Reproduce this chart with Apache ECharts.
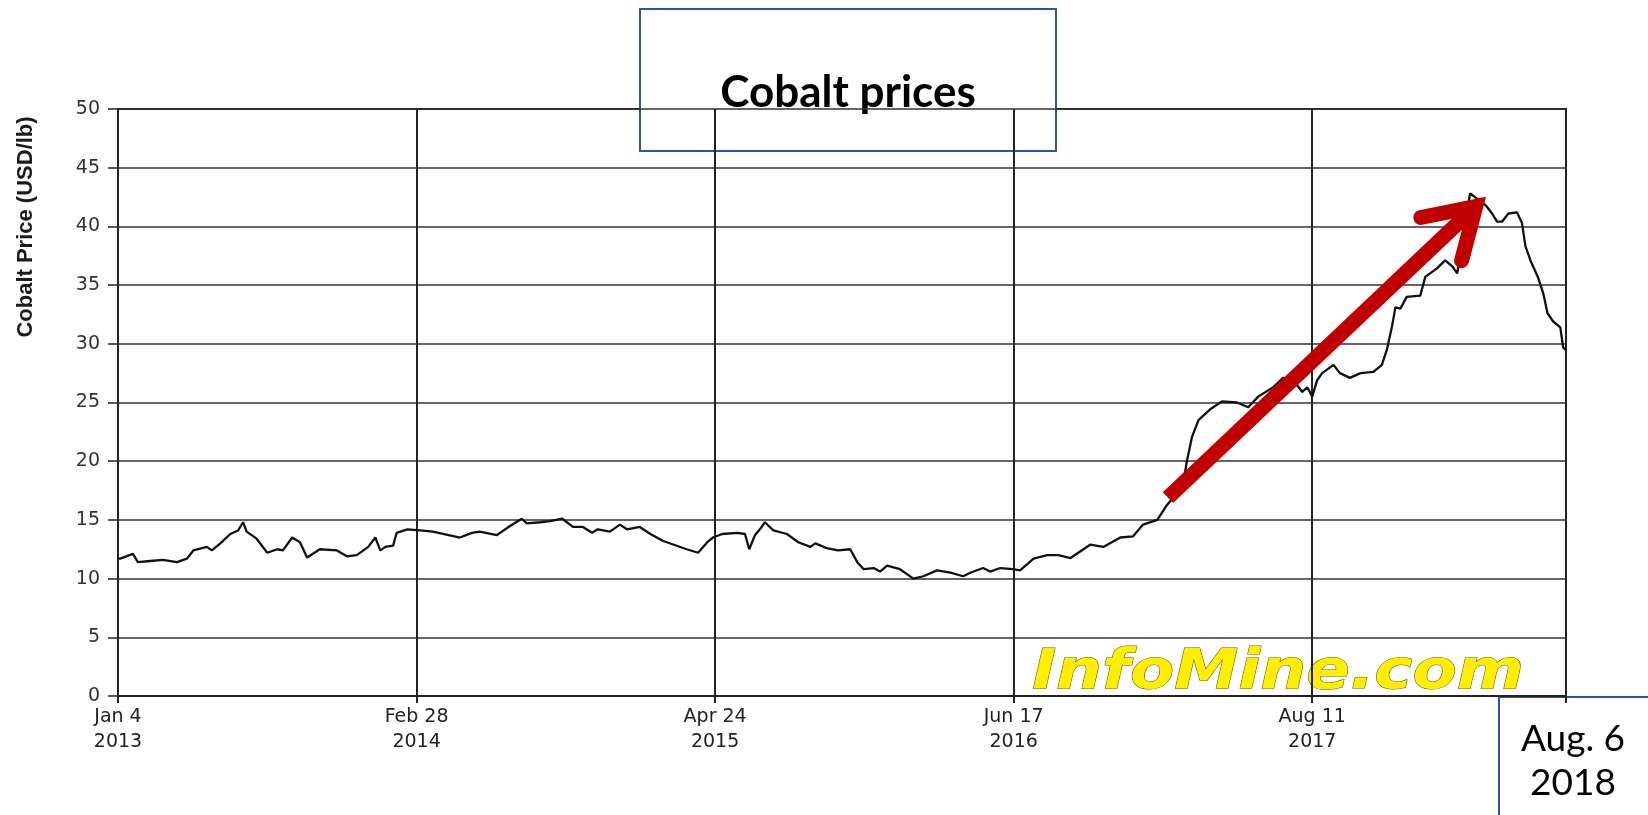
<!DOCTYPE html>
<html>
<head>
<meta charset="utf-8">
<title>Cobalt prices</title>
<script src="https://cdn.jsdelivr.net/npm/echarts@6/dist/echarts.min.js"></script>
<style>
  html, body { margin: 0; padding: 0; background: #fff; }
  #main { width: 1648px; height: 815px; }
</style>
</head>
<body>
<div id="main"></div>
<script>
  // days counted from Jan 4 2013
  var days = [0, 3, 21, 28, 45, 63, 83, 97, 106, 125, 132, 144, 158, 169, 176, 181, 195, 210, 224, 232,
    245, 256, 266, 284, 308, 322, 336, 352, 362, 369, 376, 387, 392, 407, 425, 443, 481, 498, 509, 533,
    552, 568, 575, 594, 608, 625, 640, 654, 667, 675, 692, 706, 716, 734, 749, 767, 786, 800, 816, 829,
    837, 850, 871, 882, 888, 896, 903, 910, 922, 941, 957, 974, 981, 997, 1013, 1030, 1040, 1049, 1063, 1072,
    1082, 1100, 1119, 1133, 1152, 1171, 1189, 1199, 1217, 1227, 1241, 1259, 1269, 1288, 1307, 1323, 1340, 1368, 1386, 1410,
    1428, 1442, 1462, 1476, 1490, 1501, 1504, 1511, 1520, 1536, 1553, 1574, 1590, 1604, 1625, 1639, 1656, 1666, 1673, 1680,
    1687, 1694, 1710, 1719, 1733, 1748, 1766, 1778, 1785, 1792, 1797, 1804, 1813, 1832, 1839, 1855, 1867, 1877, 1884, 1902,
    1909, 1924, 1933, 1940, 1947, 1956, 1968, 1975, 1980, 1987, 1998, 2005, 2011, 2019, 2029, 2033, 2036];

  var prices = [11.7, 11.7, 12.1, 11.4, 11.5, 11.6, 11.4, 11.7, 12.4, 12.7, 12.4, 13.0, 13.8, 14.1, 14.8, 14.0, 13.4, 12.2, 12.5, 12.4,
    13.5, 13.1, 11.8, 12.5, 12.4, 11.9, 12.0, 12.7, 13.5, 12.4, 12.7, 12.8, 13.9, 14.2, 14.1, 14.0, 13.5, 13.9, 14.0, 13.7,
    14.5, 15.1, 14.7, 14.8, 14.9, 15.1, 14.4, 14.4, 13.9, 14.2, 14.0, 14.6, 14.2, 14.4, 13.8, 13.2, 12.8, 12.5, 12.2, 13.1,
    13.5, 13.8, 13.9, 13.8, 12.5, 13.7, 14.2, 14.8, 14.1, 13.8, 13.1, 12.7, 13.0, 12.6, 12.4, 12.5, 11.4, 10.8, 10.9, 10.6,
    11.1, 10.8, 10.0, 10.2, 10.7, 10.5, 10.2, 10.5, 10.9, 10.6, 10.9, 10.8, 10.7, 11.7, 12.0, 12.0, 11.75, 12.9, 12.7, 13.5,
    13.6, 14.6, 15.0, 16.3, 17.3, 19.0, 20.1, 22.1, 23.5, 24.4, 25.1, 25.0, 24.6, 25.5, 26.3, 27.1, 26.7, 25.9, 26.3, 25.5,
    26.9, 27.5, 28.2, 27.5, 27.1, 27.5, 27.6, 28.2, 29.5, 31.4, 33.1, 33.0, 34.0, 34.1, 35.7, 36.4, 37.1, 36.6, 36.0, 42.8,
    42.5, 41.8, 41.1, 40.4, 40.4, 41.1, 41.2, 40.3, 38.3, 37.1, 35.6, 34.3, 32.6, 31.9, 31.4, 29.7, 29.5];

  var xLabels = ['Jan 4\n2013', 'Feb 28\n2014', 'Apr 24\n2015', 'Jun 17\n2016', 'Aug 11\n2017'];
  var tickStep = 420;   // 60 weeks between labelled dates
  var lastDay = 2037;   // about Aug 6 2018

  // arrow drawn over the rise, in data coordinates [day, price]
  var arrowTail = [1477, 16.9];
  var arrowTip = [1910, 41.7];

  var seriesData = days.map(function (d, i) { return [d, prices[i]]; });

  var chart = echarts.init(document.getElementById('main'));

  var option = {
    backgroundColor: '#fff',
    animation: false,
    grid: {
      left: 118, right: 82, top: 109, bottom: 119,
      containLabel: false,
      outerBoundsMode: 'none',
      show: true,
      borderColor: '#222',
      borderWidth: 2
    },
    xAxis: {
      type: 'value',
      min: 0,
      max: lastDay,
      interval: tickStep,
      axisLine: { lineStyle: { color: '#222', width: 2 } },
      axisTick: { show: true, length: 7, lineStyle: { color: '#222', width: 2 } },
      axisLabel: {
        color: '#222',
        fontFamily: 'DejaVu Sans',
        fontSize: 19,
        lineHeight: 25,
        margin: 9,
        formatter: function (v) {
          return v % tickStep === 0 ? (xLabels[v / tickStep] || '') : '';
        }
      },
      splitLine: { show: true, lineStyle: { color: '#222', width: 2 } }
    },
    yAxis: {
      type: 'value',
      min: 0,
      max: 50,
      interval: 5,
      axisLine: { show: true, lineStyle: { color: '#222', width: 2 } },
      axisTick: { show: true, length: 10, lineStyle: { color: '#222', width: 1.5 } },
      axisLabel: { color: '#333', fontFamily: 'DejaVu Sans', fontSize: 19, margin: 18 },
      splitLine: { show: true, lineStyle: { color: '#333', width: 1.5 } }
    },
    series: [{
      type: 'line',
      data: seriesData,
      showSymbol: false,
      lineStyle: { color: '#111', width: 2.3 },
      z: 3
    }],
    graphic: [
      {
        type: 'text', z: -10,
        x: 1278, y: 673, scaleX: 1.15, originX: 0,
        style: {
          text: 'InfoMine.com',
          font: 'italic bold 56px "DejaVu Sans"',
          fill: '#ffee00',
          stroke: '#5c5a00',
          lineWidth: 1,
          shadowColor: 'rgba(0,0,0,0.55)',
          shadowOffsetX: 3, shadowOffsetY: 3, shadowBlur: 2,
          textAlign: 'center',
          textVerticalAlign: 'middle'
        }
      },
      {
        type: 'text', z: 20,
        x: 26, y: 227, rotation: Math.PI / 2,
        style: {
          text: 'Cobalt Price (USD/lb)',
          font: 'bold 22px "Liberation Sans Narrow", "Liberation Sans"',
          fill: '#1a1a1a',
          textAlign: 'center',
          textVerticalAlign: 'middle'
        }
      },
      {
        type: 'group', z: 100,
        children: [
          {
            type: 'rect',
            shape: { x: 640, y: 9, width: 416, height: 142 },
            style: { fill: '#fff', stroke: '#2f5597', lineWidth: 2 }
          },
          {
            type: 'text', x: 848, y: 93,
            style: {
              text: 'Cobalt prices', font: 'bold 44px Lato', fill: '#000',
              textAlign: 'center', textVerticalAlign: 'middle'
            }
          }
        ]
      },
      {
        type: 'group', z: 100,
        children: [
          {
            type: 'rect',
            shape: { x: 1499, y: 697, width: 160, height: 130 },
            style: { fill: '#fff', stroke: '#2f5597', lineWidth: 2 }
          },
          {
            type: 'text', x: 1573, y: 739,
            style: {
              text: 'Aug. 6', font: '37px Lato', fill: '#000',
              textAlign: 'center', textVerticalAlign: 'middle'
            }
          },
          {
            type: 'text', x: 1573, y: 783,
            style: {
              text: '2018', font: '37px Lato', fill: '#000',
              textAlign: 'center', textVerticalAlign: 'middle'
            }
          }
        ]
      }
    ]
  };

  chart.setOption(option);

  // red arrow: place it from data coords, barbs spread off the shaft
  var p0 = chart.convertToPixel({ gridIndex: 0 }, arrowTail);
  var p1 = chart.convertToPixel({ gridIndex: 0 }, arrowTip);
  var back = Math.atan2(p0[1] - p1[1], p0[0] - p1[0]);
  var barbLen = 56;
  var spread = 32 * Math.PI / 180;
  var b1 = [p1[0] + barbLen * Math.cos(back + spread), p1[1] + barbLen * Math.sin(back + spread)];
  var b2 = [p1[0] + barbLen * Math.cos(back - spread), p1[1] + barbLen * Math.sin(back - spread)];
  var shaftEnd = [p1[0] + 10 * Math.cos(back), p1[1] + 10 * Math.sin(back)];

  chart.setOption({
    graphic: [
      {
        id: 'arrowShaft', type: 'polyline', z: 90,
        shape: { points: [p0, shaftEnd] },
        style: { stroke: '#c00000', lineWidth: 15, lineCap: 'butt', fill: null }
      },
      {
        id: 'arrowHead', type: 'polyline', z: 90,
        shape: { points: [b1, p1, b2] },
        style: { stroke: '#c00000', lineWidth: 15, lineCap: 'round', lineJoin: 'miter', miterLimit: 10, fill: null }
      }
    ]
  });
</script>
</body>
</html>
